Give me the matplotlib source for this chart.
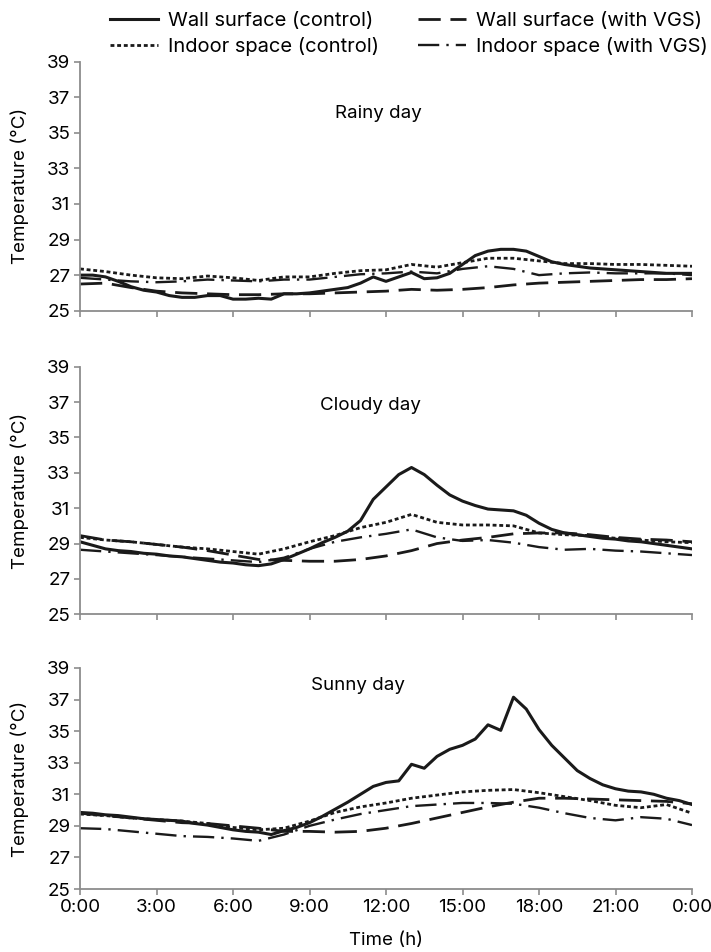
import numpy as np
import matplotlib
matplotlib.use("Agg")
import matplotlib.pyplot as plt
from matplotlib.lines import Line2D

plt.rcParams['font.family'] = ['Inter', 'DejaVu Sans']
plt.rcParams['font.size'] = 13.5

# time axes (hours)
hours = np.arange(0, 25)          # hourly readings
half = np.arange(0, 24.5, 0.5)    # half-hourly readings (wall control)

# ---- Rainy day ----
rainy_wall_ctrl = [27.0, 27.0, 26.9, 26.65, 26.35, 26.15, 26.05, 25.85, 25.75, 25.75,
                   25.85, 25.85, 25.65, 25.65, 25.7, 25.65, 25.95, 25.95, 26.0, 26.1,
                   26.2, 26.3, 26.55, 26.9, 26.65, 26.9, 27.15, 26.8, 26.85, 27.1,
                   27.6, 28.1, 28.35, 28.45, 28.45, 28.35, 28.05, 27.75, 27.6, 27.5,
                   27.4, 27.35, 27.3, 27.25, 27.2, 27.15, 27.1, 27.1, 27.1]
rainy_indoor_ctrl = [27.35, 27.2, 27.0, 26.85, 26.8, 26.95, 26.85, 26.7, 26.9, 26.9,
                     27.1, 27.25, 27.3, 27.6, 27.45, 27.7, 27.95, 27.95, 27.8, 27.65,
                     27.65, 27.6, 27.6, 27.55, 27.5]
rainy_wall_vgs = [26.5, 26.55, 26.3, 26.1, 26.0, 25.95, 25.9, 25.9, 25.95, 25.95,
                  26.0, 26.05, 26.1, 26.2, 26.15, 26.2, 26.3, 26.45, 26.55, 26.6,
                  26.65, 26.7, 26.75, 26.75, 26.8]
rainy_indoor_vgs = [26.85, 26.75, 26.65, 26.6, 26.65, 26.75, 26.7, 26.65, 26.75, 26.75,
                    26.9, 27.05, 27.1, 27.2, 27.1, 27.35, 27.5, 27.35, 27.0, 27.1,
                    27.15, 27.1, 27.1, 27.1, 27.0]

# ---- Cloudy day ----
cloudy_wall_ctrl = [29.1, 28.9, 28.7, 28.6, 28.55, 28.45, 28.4, 28.3, 28.25, 28.15,
                    28.05, 27.95, 27.9, 27.8, 27.75, 27.85, 28.1, 28.4, 28.7, 29.05,
                    29.35, 29.7, 30.3, 31.5, 32.2, 32.9, 33.3, 32.9, 32.3, 31.75,
                    31.4, 31.15, 30.95, 30.9, 30.85, 30.6, 30.15, 29.8, 29.6, 29.5,
                    29.4, 29.3, 29.25, 29.15, 29.1, 29.0, 28.9, 28.8, 28.7]
cloudy_indoor_ctrl = [29.35, 29.2, 29.1, 28.95, 28.8, 28.7, 28.55, 28.4, 28.7, 29.1,
                      29.45, 29.9, 30.2, 30.65, 30.2, 30.05, 30.05, 30.0, 29.6, 29.5,
                      29.45, 29.3, 29.2, 29.1, 29.05]
cloudy_wall_vgs = [29.45, 29.2, 29.1, 28.95, 28.8, 28.6, 28.35, 28.1, 28.05, 28.0,
                   28.0, 28.1, 28.3, 28.6, 29.0, 29.2, 29.35, 29.55, 29.6, 29.6,
                   29.5, 29.35, 29.25, 29.2, 29.1]
cloudy_indoor_vgs = [28.65, 28.55, 28.45, 28.35, 28.25, 28.15, 28.05, 27.95, 28.2, 28.7,
                     29.1, 29.35, 29.55, 29.8, 29.35, 29.15, 29.2, 29.05, 28.8, 28.65,
                     28.7, 28.6, 28.55, 28.45, 28.35]

# ---- Sunny day ----
sunny_wall_ctrl = [29.85, 29.8, 29.7, 29.65, 29.55, 29.45, 29.4, 29.35, 29.3, 29.15,
                   29.05, 28.9, 28.75, 28.65, 28.6, 28.45, 28.7, 28.9, 29.2, 29.6,
                   30.05, 30.5, 31.0, 31.5, 31.75, 31.85, 32.9, 32.65, 33.4, 33.85,
                   34.1, 34.5, 35.4, 35.05, 37.15, 36.4, 35.1, 34.1, 33.3, 32.5,
                   32.0, 31.6, 31.35, 31.2, 31.15, 31.0, 30.75, 30.6, 30.35]
sunny_indoor_ctrl = [29.75, 29.65, 29.5, 29.4, 29.3, 29.15, 28.9, 28.75, 28.85, 29.3,
                     29.85, 30.2, 30.45, 30.75, 30.95, 31.15, 31.25, 31.3, 31.1, 30.85,
                     30.6, 30.3, 30.15, 30.35, 29.8]
sunny_wall_vgs = [29.8, 29.65, 29.5, 29.35, 29.2, 29.15, 29.0, 28.85, 28.65, 28.65,
                  28.6, 28.65, 28.85, 29.15, 29.5, 29.85, 30.2, 30.5, 30.75, 30.75,
                  30.7, 30.65, 30.6, 30.55, 30.4]
sunny_indoor_vgs = [28.85, 28.8, 28.65, 28.5, 28.35, 28.3, 28.2, 28.05, 28.45, 29.0,
                    29.4, 29.75, 30.0, 30.25, 30.35, 30.45, 30.45, 30.4, 30.15, 29.8,
                    29.5, 29.35, 29.55, 29.45, 29.05]

titles = ["Rainy day", "Cloudy day", "Sunny day"]
title_pos = [(11.7, 36.1), (11.4, 36.8), (10.9, 37.9)]
yticks = [25, 27, 29, 31, 33, 35, 37, 39]
xticks = [0, 3, 6, 9, 12, 15, 18, 21, 24]
xticklabels = ["0:00", "3:00", "6:00", "9:00", "12:00", "15:00", "18:00", "21:00", "0:00"]

days = [
    (rainy_wall_ctrl, rainy_indoor_ctrl, rainy_wall_vgs, rainy_indoor_vgs),
    (cloudy_wall_ctrl, cloudy_indoor_ctrl, cloudy_wall_vgs, cloudy_indoor_vgs),
    (sunny_wall_ctrl, sunny_indoor_ctrl, sunny_wall_vgs, sunny_indoor_vgs),
]

ink = "#1a1a1a"
grey = "#8c8c8c"
styles = {
    "wall_ctrl": dict(ls="-", lw=2.2),
    "indoor_ctrl": dict(ls=(0, (1.4, 1.0)), lw=2.0),
    "wall_vgs": dict(ls=(0, (8, 3.5)), lw=2.0),
    "indoor_vgs": dict(ls=(0, (9, 3, 1, 3)), lw=1.7),
}

W, H = 711, 952
fig = plt.figure(figsize=(W / 100, H / 100), dpi=100)
# panel boxes in pixels: (top, bottom)
boxes = [(61.7, 310.7), (366.7, 614.3), (668, 889)]
left, right = 80, 692

for i, (data, box) in enumerate(zip(days, boxes)):
    top, bot = box
    ax = fig.add_axes([left / W, 1 - bot / H, (right - left) / W, (bot - top) / H])
    wc, ic, wv, iv = data
    ax.plot(half, wc, color=ink, **styles["wall_ctrl"])
    ax.plot(hours, ic, color=ink, **styles["indoor_ctrl"])
    ax.plot(hours, wv, color=ink, **styles["wall_vgs"])
    ax.plot(hours, iv, color=ink, **styles["indoor_vgs"])

    ax.set_xlim(0, 24)
    ax.set_ylim(25, 39)
    ax.set_yticks(yticks)
    ax.set_xticks(xticks)
    if i == 2:
        ax.set_xticklabels(xticklabels)
        ax.set_xlabel("Time (h)", labelpad=12)
    else:
        ax.set_xticklabels([])
    ax.set_ylabel("Temperature (°C)", labelpad=13)
    for s in ["top", "right"]:
        ax.spines[s].set_visible(False)
    for s in ["left", "bottom"]:
        ax.spines[s].set_color(grey)
        ax.spines[s].set_linewidth(1.3)
    ax.tick_params(direction="out", length=4, width=1.2, color=grey, pad=3)
    tx, ty = title_pos[i]
    ax.text(tx, ty, titles[i], ha="center", va="center")

handles = [
    Line2D([], [], color=ink, **styles["wall_ctrl"]),
    Line2D([], [], color=ink, **styles["indoor_ctrl"]),
    Line2D([], [], color=ink, **styles["wall_vgs"]),
    Line2D([], [], color=ink, **styles["indoor_vgs"]),
]
labels = ["Wall surface (control)", "Indoor space (control)",
          "Wall surface (with VGS)", "Indoor space (with VGS)"]
fig.legend(handles, labels, ncol=2, loc="upper left",
           bbox_to_anchor=(110 / W, 1 - 12 / H), frameon=False,
           fontsize=14.5, handlelength=2.4, handletextpad=0.5, columnspacing=1.9,
           borderpad=0, borderaxespad=0, labelspacing=0.35)

fig.savefig("out.png", dpi=100)
